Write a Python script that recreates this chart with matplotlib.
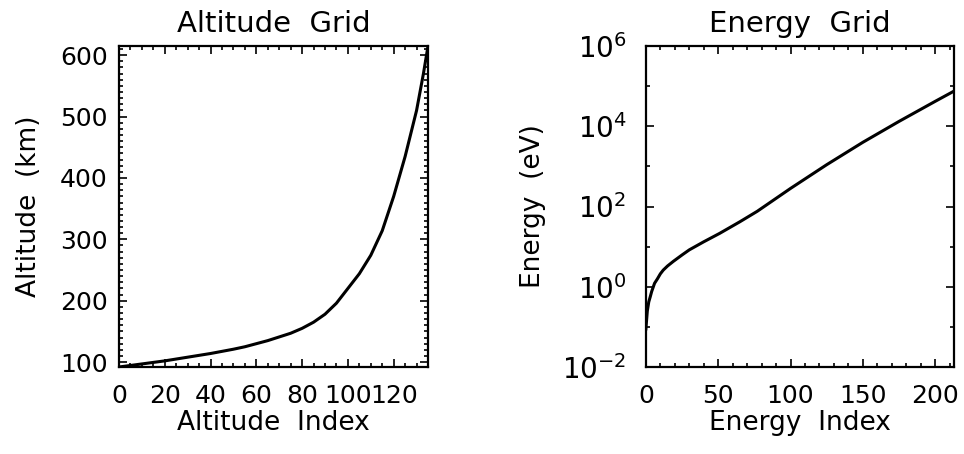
import matplotlib
matplotlib.use("Agg")
import matplotlib.pyplot as plt
from matplotlib.ticker import MultipleLocator, FixedLocator, LogFormatterMathtext, NullFormatter

# Altitude grid data (index, km)
alt_index = [0, 5, 10, 15, 20, 25, 30, 35, 40, 45, 50, 55, 60, 65, 70, 75, 80, 85, 90, 95,
             100, 105, 110, 115, 120, 125, 130, 133, 135]
alt_km = [92, 94.5, 97, 99.5, 102, 105, 108, 111, 114, 117.5, 121, 125, 130, 135, 141, 147,
          155, 165, 178, 196, 220, 244, 274, 314, 370, 435, 510, 570, 615]

# Energy grid data (index, eV)
en_index = [0, 1, 2, 3, 4, 6, 8, 10, 12, 15, 19, 25, 30, 40, 51, 65, 77, 100, 125, 150, 175, 200, 213]
en_ev = [0.089, 0.25, 0.42, 0.56, 0.76, 1.22, 1.58, 2.1, 2.6, 3.3, 4.3, 6.2, 8.3, 13.2, 21.4, 41.7, 76.0,
         282.0, 1100.0, 3980.0, 13200.0, 41700.0, 75000.0]

plt.rcParams['font.family'] = ['DejaVu Sans']
fig = plt.figure(figsize=(9.64, 4.54), dpi=100)

ax1 = fig.add_axes([0.1234, 0.1916, 0.3206, 0.7071])
ax2 = fig.add_axes([0.670, 0.1916, 0.3196, 0.7071])

fs = 18
for ax in (ax1, ax2):
    for sp in ax.spines.values():
        sp.set_linewidth(1.6)
    ax.tick_params(which='both', direction='in', top=True, right=True, width=1.2)
    ax.tick_params(which='major', length=6, labelsize=fs)
    ax.tick_params(which='minor', length=3)
    ax.tick_params(axis='x', which='major', pad=12)
    ax.tick_params(axis='y', which='major', pad=8)

ax1.plot(alt_index, alt_km, color='black', linewidth=2.2)
ax1.set_xlim(0, 135)
ax1.set_ylim(92, 615)
ax1.xaxis.set_major_locator(FixedLocator([0, 20, 40, 60, 80, 100, 120]))
ax1.xaxis.set_minor_locator(MultipleLocator(5))
ax1.yaxis.set_major_locator(FixedLocator([100, 200, 300, 400, 500, 600]))
ax1.yaxis.set_minor_locator(MultipleLocator(10))
ax1.set_title('Altitude  Grid', fontsize=21, pad=10)
ax1.set_xlabel('Altitude  Index', fontsize=19, labelpad=2)
ax1.set_ylabel('Altitude  (km)', fontsize=19, labelpad=13)

ax2.plot(en_index, en_ev, color='black', linewidth=2.2)
ax2.set_yscale('log')
ax2.set_xlim(0, 213)
ax2.set_ylim(1e-2, 1e6)
ax2.xaxis.set_major_locator(FixedLocator([0, 50, 100, 150, 200]))
ax2.xaxis.set_minor_locator(MultipleLocator(10))
ax2.yaxis.set_major_locator(FixedLocator([1e-2, 1e0, 1e2, 1e4, 1e6]))
ax2.yaxis.set_minor_locator(FixedLocator([1e-1, 1e1, 1e3, 1e5]))
ax2.yaxis.set_major_formatter(LogFormatterMathtext())
ax2.yaxis.set_minor_formatter(NullFormatter())
ax2.tick_params(axis='y', which='major', labelsize=20, pad=14)
ax2.set_title('Energy  Grid', fontsize=21, pad=10)
ax2.set_xlabel('Energy  Index', fontsize=19, labelpad=2)
ax2.set_ylabel('Energy  (eV)', fontsize=19, labelpad=12)

fig.savefig('out.png', dpi=100)
